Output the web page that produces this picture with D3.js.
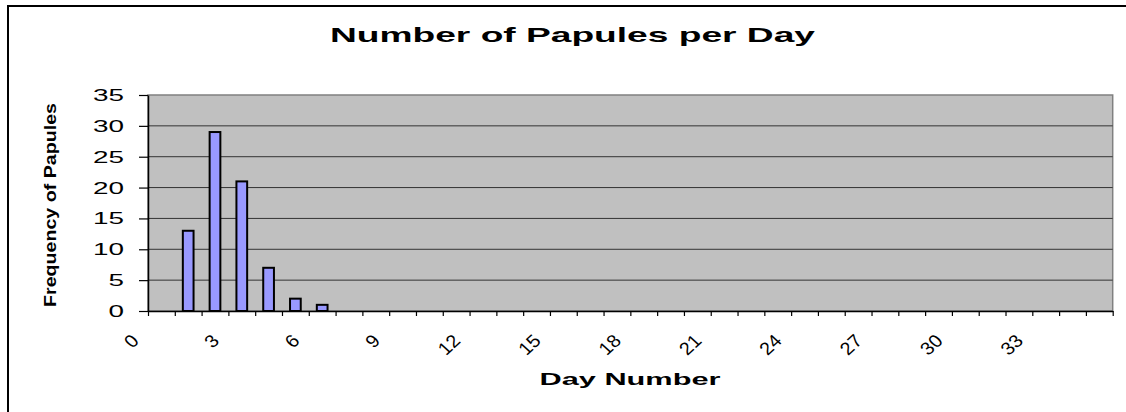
<!DOCTYPE html>
<html>
<head>
<meta charset="utf-8">
<script src="https://cdn.jsdelivr.net/npm/d3@7"></script>
<style>
  body { margin: 0; background: #fff; }
  text { font-family: "Liberation Sans", Arial, sans-serif; fill: #000; }
</style>
</head>
<body>
<div id="chart"></div>
<script>
var width = 1126,
    height = 412;

// day numbers on the category axis
var days = [0, 1, 2, 3, 4, 5, 6, 7, 8, 9, 10, 11, 12, 13, 14, 15, 16, 17,
            18, 19, 20, 21, 22, 23, 24, 25, 26, 27, 28, 29, 30, 31, 32, 33, 34, 35];
// papules counted per day
var papules = [0, 13, 29, 21, 7, 2, 1, 0, 0, 0, 0, 0, 0, 0, 0, 0, 0, 0,
               0, 0, 0, 0, 0, 0, 0, 0, 0, 0, 0, 0, 0, 0, 0, 0, 0, 0];
var xLabels = ["0", "3", "6", "9", "12", "15", "18", "21", "24", "27", "30", "33"];
var yTicks = [0, 5, 10, 15, 20, 25, 30, 35];

var plotLeft = 148, plotRight = 1112.7, plotTop = 95, plotBottom = 311;

var svg = d3.select("#chart").append("svg")
    .attr("width", width)
    .attr("height", height);

// outer chart frame (runs off the right and bottom edges)
svg.append("path")
    .attr("d", "M8,420 L8,6 L1140,6")
    .attr("fill", "none")
    .attr("stroke", "#000")
    .attr("stroke-width", 2);

var x = d3.scaleBand()
    .domain(days)
    .range([plotLeft, plotRight]);

// boundaries between categories, used for the tick marks
var xEdge = d3.scaleLinear()
    .domain([0, days.length])
    .range([plotLeft, plotRight]);

var y = d3.scaleLinear()
    .domain([0, 35])
    .range([plotBottom, plotTop]);

// plot area
svg.append("rect")
    .attr("x", plotLeft)
    .attr("y", plotTop)
    .attr("width", plotRight - plotLeft)
    .attr("height", plotBottom - plotTop)
    .attr("fill", "#c0c0c0")
    .attr("stroke", "#808080")
    .attr("stroke-width", 1.5);

// gridlines
svg.selectAll(".grid")
    .data(yTicks.filter(function(d){ return d > 0 && d < 35; }))
    .enter()
    .append("line")
    .attr("class", "grid")
    .attr("x1", plotLeft)
    .attr("x2", plotRight)
    .attr("y1", function(d){ return y(d); })
    .attr("y2", function(d){ return y(d); })
    .attr("stroke", "#333")
    .attr("stroke-width", 1);

// bars (gap width 150%)
var barW = x.bandwidth() / 2.5;
svg.selectAll(".bar")
    .data(days.filter(function(d, i){ return papules[i] > 0; }))
    .enter()
    .append("rect")
    .attr("class", "bar")
    .attr("x", function(d){ return x(d) + (x.bandwidth() - barW) / 2; })
    .attr("y", function(d){ return y(papules[d]); })
    .attr("width", barW)
    .attr("height", function(d){ return plotBottom - y(papules[d]); })
    .attr("fill", "#9999ff")
    .attr("stroke", "#000")
    .attr("stroke-width", 2);

// y axis
var yAxis = svg.append("g")
    .attr("transform", "translate(" + plotLeft + ",0)")
    .call(d3.axisLeft(y).tickValues(yTicks).tickSize(9).tickSizeOuter(0).tickPadding(15));
yAxis.select(".domain").attr("stroke", "#000").attr("stroke-width", 1.5);
yAxis.selectAll(".tick line").attr("stroke", "#000").attr("stroke-width", 1.2);
yAxis.selectAll(".tick text")
    .attr("font-size", 17)
    .attr("font-family", "Liberation Sans, Arial, sans-serif")
    .attr("textLength", function(d){ return String(d).length * 15.5; })
    .attr("lengthAdjust", "spacingAndGlyphs");

// x axis tick marks
var xAxis = svg.append("g")
    .attr("transform", "translate(0," + plotBottom + ")")
    .call(d3.axisBottom(xEdge).tickValues(d3.range(0, days.length + 1))
      .tickSize(5).tickSizeOuter(0).tickFormat(""));
xAxis.select(".domain").attr("stroke", "#000").attr("stroke-width", 1.5);
xAxis.selectAll(".tick line").attr("stroke", "#000").attr("stroke-width", 1.2);

// rotated category labels
svg.selectAll(".xlab")
    .data(xLabels)
    .enter()
    .append("text")
    .attr("class", "xlab")
    .attr("transform", function(d){
      return "translate(" + (x(+d) - 8) + ",342) scale(1.1,1) rotate(-45)";
    })
    .attr("text-anchor", "end")
    .attr("font-size", 18)
    .text(function(d){ return d; });

// titles
svg.append("text")
    .attr("x", 572.5)
    .attr("y", 42)
    .attr("text-anchor", "middle")
    .attr("font-size", 21)
    .attr("font-weight", "bold")
    .attr("textLength", 485)
    .attr("lengthAdjust", "spacingAndGlyphs")
    .text("Number of Papules per Day");

svg.append("text")
    .attr("x", 630)
    .attr("y", 385)
    .attr("text-anchor", "middle")
    .attr("font-size", 17)
    .attr("font-weight", "bold")
    .attr("textLength", 181)
    .attr("lengthAdjust", "spacingAndGlyphs")
    .text("Day Number");

svg.append("text")
    .attr("transform", "translate(56,205) rotate(-90)")
    .attr("text-anchor", "middle")
    .attr("font-size", 16)
    .attr("font-weight", "bold")
    .attr("textLength", 204)
    .attr("lengthAdjust", "spacingAndGlyphs")
    .text("Frequency of Papules");
</script>
</body>
</html>
